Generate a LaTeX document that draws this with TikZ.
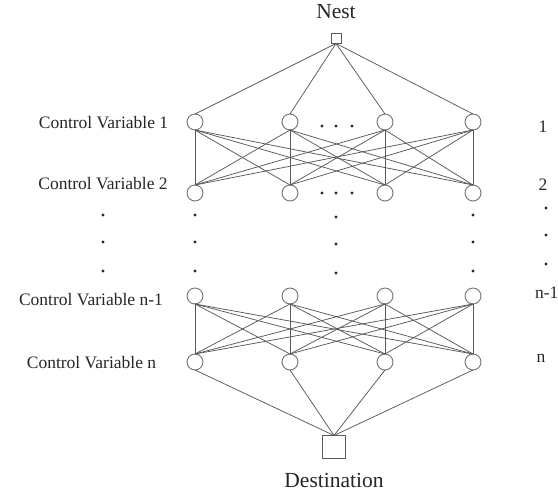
\documentclass[tikz,border=0pt]{standalone}
\usepackage{fontspec}
\setmainfont{Liberation Serif}
\begin{document}
\begin{tikzpicture}[x=1pt,y=-1pt,
  every node/.style={inner sep=0pt,outer sep=0pt},
  var/.style={draw=black!55,line width=0.9pt,circle,minimum size=16pt,fill=white},
  endbox/.style={draw=black!65,line width=0.9pt,rectangle,fill=white},
  link/.style={draw=black!65,line width=0.75pt},
  lbl/.style={font=\fontsize{17.5}{20}\selectfont,text=black!85},
  biglbl/.style={font=\fontsize{21.5}{24}\selectfont,text=black!85},
  dot/.style={fill=black!85,circle,minimum size=3.2pt}]
\useasboundingbox (0,0) rectangle (558,498);

% terminal nodes
\node[endbox,minimum size=10pt] (nest) at (336,38.5) {};
\node[endbox,minimum size=23pt] (dest) at (334,447) {};
\node[biglbl] (nesttxt) at (336,12) {Nest};
\node[biglbl] (desttxt) at (334,480) {Destination};

% control variable layers: 1, 2, n-1, n
\foreach \r/\yy in {a/122, b/193, c/296, d/362}
  \foreach \c/\xx in {1/195, 2/290, 3/385, 4/473}
    \node[var] (\r\c) at (\xx,\yy) {};

% connections: each layer feeds every node of the next one
\foreach \c in {1,...,4} {
  \draw[link] (nest.south) -- (a\c.north);
  \draw[link] (d\c.south) -- (dest.north);
  \foreach \k in {1,...,4} {
    \draw[link] (a\c.south) -- (b\k.north);
    \draw[link] (c\c.south) -- (d\k.north);
  }
}

% horizontal ellipses
\foreach \yy in {126,193}
  \foreach \xx in {322,336,352}
    \node[dot] (h\xx-\yy) at (\xx,\yy) {};

% vertical ellipses
\foreach \xx/\dy in {103/0, 195/0, 336/2, 473/0, 546/-7}
  \foreach \yy in {215,242,271}
    \node[dot] (v\xx-\yy) at (\xx,\yy+\dy) {};

% left labels
\node[lbl] (l1) at (103.5,123) {Control Variable 1};
\node[lbl] (l2) at (103,184) {Control Variable 2};
\node[lbl] (l3) at (91,300) {Control Variable n-1};
\node[lbl] (l4) at (91.5,363) {Control Variable n};

% right labels
\node[lbl] (r1) at (543,127) {1};
\node[lbl] (r2) at (543,185) {2};
\node[lbl,anchor=west] (r3) at (535,293) {n-1};
\node[lbl] (r4) at (541,358) {n};
\end{tikzpicture}
\end{document}
